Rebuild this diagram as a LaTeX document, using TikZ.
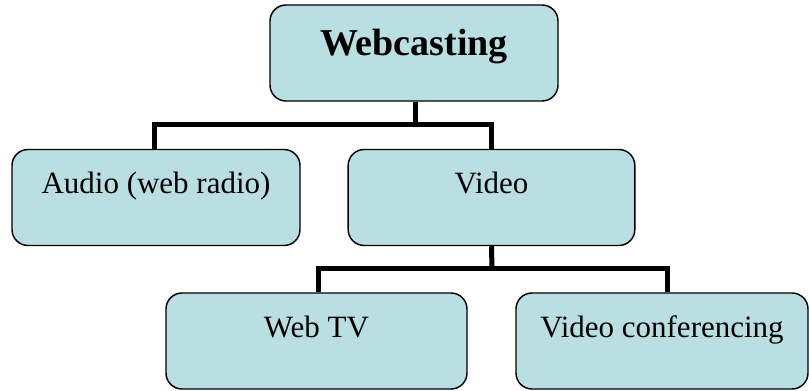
\documentclass[tikz,border=0pt]{standalone}
\usepackage{fontspec}
\setmainfont{Liberation Serif}
\definecolor{boxfill}{RGB}{185,223,227}
\tikzset{
	box/.style={draw=black,line width=1.1pt,fill=boxfill,rounded corners=12pt,minimum height=72pt,inner sep=0pt,font=\fontsize{23.25}{28}\selectfont,text height=15.4pt,text depth=21pt},
	conn/.style={line width=3.75pt,black}
}
\begin{document}
\begin{tikzpicture}[x=0.75pt,y=-0.75pt]
	\useasboundingbox (0,0) rectangle (809,391);

	%boxes
	\node[box,minimum width=216pt,font=\fontsize{28.5}{34}\selectfont\bfseries,text height=18.9pt,text depth=15.8pt] (webcasting) at (414,53) {Webcasting}; %root
	\node[box,minimum width=216pt] (audio) at (156,197.5) {Audio (web radio)}; %left branch
	\node[box,minimum width=215pt] (video) at (491.5,197.5) {Video}; %right branch
	\node[box,minimum width=225.75pt] (webtv) at (316.5,341) {Web TV}; %video child 1
	\node[box,minimum width=219pt] (videoconf) at (662,341) {Video conferencing}; %video child 2

	%connectors
	\coordinate (j1) at (415,125); %first joint
	\coordinate (j2) at (492,269); %second joint
	\draw[conn] ([xshift=0.75pt]webcasting.south) -- (j1);
	\draw[conn] ([xshift=-1.5pt]audio.north) |- (j1) -| (video.north);
	\draw[conn] (video.south) -- (j2);
	\draw[conn] ([xshift=1.5pt]webtv.north) |- (j2) -| ([xshift=3.75pt]videoconf.north);
\end{tikzpicture}
\end{document}
